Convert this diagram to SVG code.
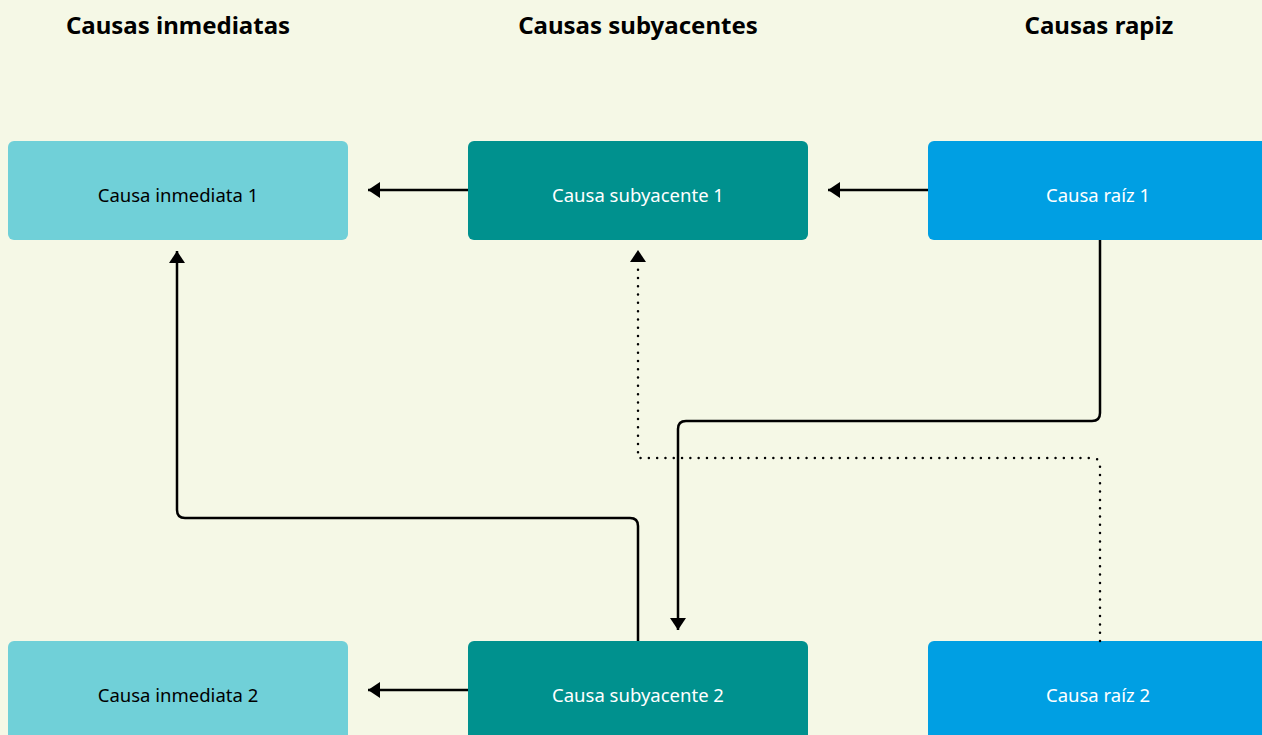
<svg xmlns="http://www.w3.org/2000/svg" width="1262" height="735" viewBox="0 0 1262 735">
<defs>
<style>
.bg{fill:#f5f8e6}
.t{font-family:"Noto Sans","Open Sans",sans-serif;font-weight:bold;font-size:24px;fill:#000;text-anchor:middle}
.l{font-family:"Noto Sans","Open Sans",sans-serif;font-size:18.5px;text-anchor:middle;dominant-baseline:central}
.a{fill:#70d0d8}.b{fill:#00918e}.c{fill:#009fe3}
.dk{fill:#000}.wh{fill:#fff}
.e{fill:none;stroke:#000;stroke-width:2.5;stroke-linejoin:round}
.d{fill:none;stroke:#000;stroke-width:2.5;stroke-linecap:round;stroke-dasharray:0 8.3}
</style>
<marker id="ah" viewBox="0 0 12 16" refX="12" refY="8" markerWidth="12" markerHeight="16" markerUnits="userSpaceOnUse" orient="auto">
<path d="M0,0 L12,8 L0,16 z" fill="#000"/>
</marker>
</defs>
<rect class="bg" width="1262" height="735"/>
<text class="t" x="178" y="34">Causas inmediatas</text>
<text class="t" x="638" y="34">Causas subyacentes</text>
<text class="t" x="1099" y="34">Causas rapiz</text>
<g id="n1"><rect class="a" x="8" y="141" width="340" height="99" rx="6"/><text class="l dk" x="178" y="194">Causa inmediata 1</text></g>
<g id="n2"><rect class="b" x="468" y="141" width="340" height="99" rx="6"/><text class="l wh" x="638" y="194">Causa subyacente 1</text></g>
<g id="n3"><rect class="c" x="928" y="141" width="345" height="99" rx="6"/><text class="l wh" x="1098" y="194">Causa raíz 1</text></g>
<g id="n4"><rect class="a" x="8" y="641" width="340" height="110" rx="6"/><text class="l dk" x="178" y="694">Causa inmediata 2</text></g>
<g id="n5"><rect class="b" x="468" y="641" width="340" height="110" rx="6"/><text class="l wh" x="638" y="694">Causa subyacente 2</text></g>
<g id="n6"><rect class="c" x="928" y="641" width="345" height="110" rx="6"/><text class="l wh" x="1098" y="694">Causa raíz 2</text></g>
<g id="connectors">
<path class="e" d="M468,190 H368" marker-end="url(#ah)"/>
<path class="e" d="M928,190 H828" marker-end="url(#ah)"/>
<path class="e" d="M468,690 H368" marker-end="url(#ah)"/>
<path class="e" d="M1100,240 V413 Q1100,421 1092,421 H686 Q678,421 678,429 V630" marker-end="url(#ah)"/>
<path class="e" d="M638,641 V526 Q638,518 630,518 H185 Q177,518 177,510 V251" marker-end="url(#ah)"/>
<path class="d" d="M1100,641 V466 Q1100,458 1092,458 H638 V262"/>
<path d="M630,262 L638,250 L646,262 z" fill="#000"/>
</g>
</svg>
